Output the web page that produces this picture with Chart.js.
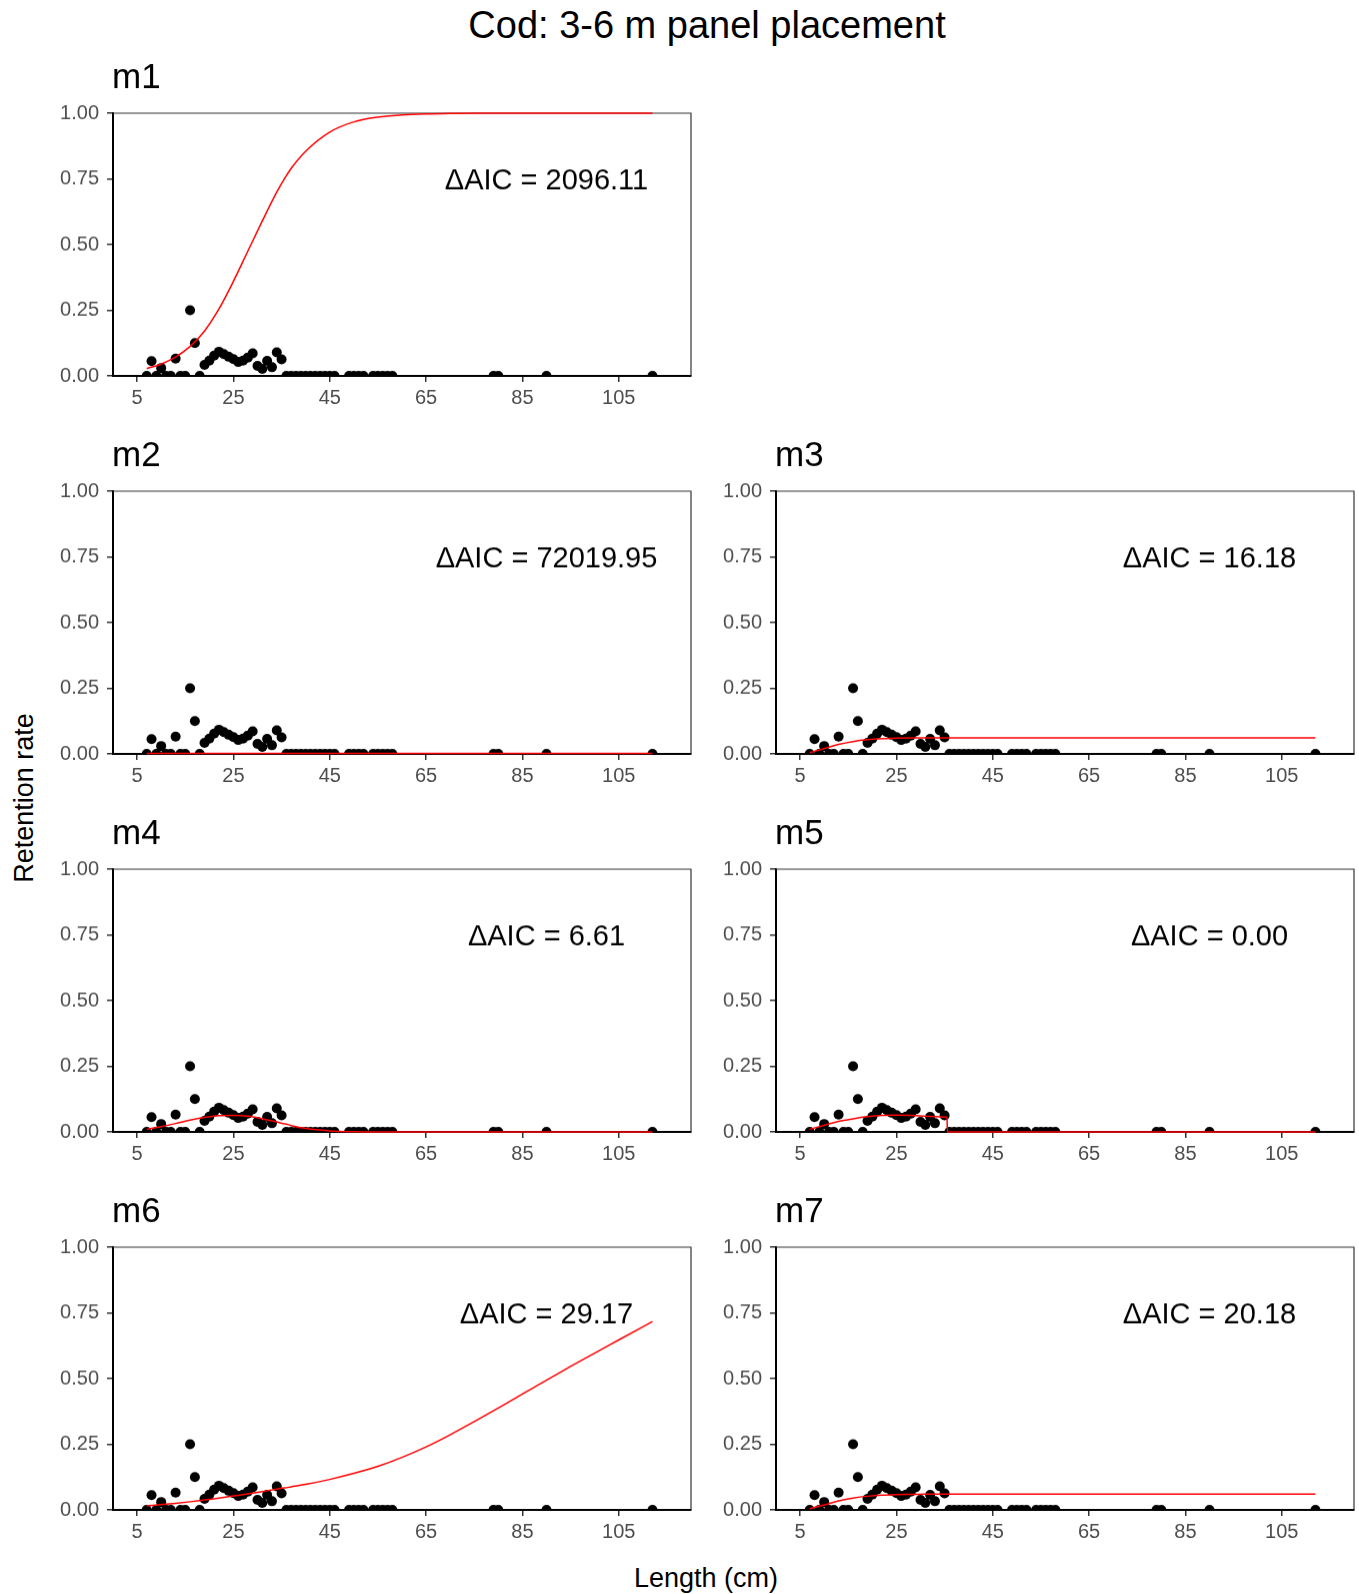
<!DOCTYPE html>
<html>
<head>
<meta charset="utf-8">
<title>Cod: 3-6 m panel placement</title>
<script src="https://cdn.jsdelivr.net/npm/chart.js@4.4.0/dist/chart.umd.min.js"></script>
<style>
body{margin:0;background:#fff;font-family:'Liberation Sans',Arial,sans-serif;}
#page{position:relative;width:1359px;height:1594px;overflow:hidden;}
.panel{position:absolute;}
#mainTitle{position:absolute;left:307px;width:800px;top:6px;text-align:center;font-size:38px;line-height:38px;color:#000;}
#xTitle{position:absolute;left:406px;width:600px;top:1565px;text-align:center;font-size:27px;line-height:27px;color:#000;}
#yTitle{position:absolute;left:24px;top:798px;font-size:27px;line-height:27px;white-space:nowrap;transform:translate(-50%,-50%) rotate(-90deg);color:#000;}
</style>
</head>
<body>
<div id="page">
  <div id="mainTitle">Cod: 3-6 m panel placement</div>
  <div id="yTitle">Retention rate</div>
  <div id="xTitle">Length (cm)</div>
</div>
<script>
'use strict';
// observed retention, one point per 1 cm length class
let lengthCm=[7,8,9,10,11,12,13,14,15,16,17,18,19,20,21,22,23,24,25,26,27,28,29,30,31,32,33,34,35,
  36,37,38,39,40,41,42,43,44,45,46,49,50,51,52,54,55,56,57,58,79,80,90,112];
let retention=[0,0.056,0,0.030,0,0,0.066,0,0,0.25,0.125,0,0.042,0.058,0.077,0.092,0.083,0.073,0.064,0.053,0.058,0.070,0.086,0.038,0.027,0.057,0.033,0.090,0.063,
  0,0,0,0,0,0,0,0,0,0,0,0,0,0,0,0,0,0,0,0,0,0,0,0];

// fitted curves
let fitLength=[7,10,13,16,19,22,25,28,31,34,35.5,35.6,37,40,45,50,55,60,65,70,75,80,85,90,95,100,105,110,112];
let fitM1=[0.028,0.045,0.072,0.112,0.171,0.255,0.36,0.475,0.59,0.70,0.748,0.751,0.79,0.855,0.928,0.967,0.985,0.993,0.997,0.999,1,1,1,1,1,1,1,1,1];
let fitM2=[0.002,0.002,0.002,0.002,0.002,0.002,0.002,0.002,0.002,0.002,0.002,0.002,0.002,0.002,0.002,0.002,0.002,0.002,0.002,0.002,0.002,0.002,0.002,0.002,0.002,0.002,0.002,0.002,0.002];
let fitM3=[0.005,0.02,0.036,0.047,0.054,0.058,0.06,0.061,0.061,0.061,0.061,0.061,0.061,0.061,0.061,0.061,0.061,0.061,0.061,0.061,0.061,0.061,0.061,0.061,0.061,0.061,0.061,0.061,0.061];
let fitM4=[0.01,0.02,0.032,0.045,0.055,0.062,0.063,0.06,0.05,0.038,0.031,0.031,0.024,0.013,0.004,0.001,0,0,0,0,0,0,0,0,0,0,0,0,0];
let fitM5=[0.01,0.025,0.04,0.05,0.058,0.063,0.064,0.063,0.06,0.057,0.055,0,0,0,0,0,0,0,0,0,0,0,0,0,0,0,0,0,0];
let fitM6=[0.015,0.02,0.025,0.031,0.038,0.045,0.053,0.061,0.07,0.079,0.084,0.084,0.088,0.097,0.116,0.139,0.166,0.2,0.24,0.286,0.336,0.388,0.441,0.494,0.546,0.597,0.647,0.697,0.717];
let fitM7=[0.005,0.019,0.034,0.045,0.052,0.056,0.058,0.059,0.06,0.06,0.06,0.06,0.06,0.06,0.06,0.06,0.06,0.06,0.06,0.06,0.06,0.06,0.06,0.06,0.06,0.06,0.06,0.06,0.06];

let panelNames=['m1','m2','m3','m4','m5','m6','m7'];
let deltaAIC=['2096.11','72019.95','16.18','6.61','0.00','29.17','20.18'];
let panelFits=[fitM1,fitM2,fitM3,fitM4,fitM5,fitM6,fitM7];
let xTicks=[5,25,45,65,85,105];
let yTicks=[0,0.25,0.5,0.75,1];

// grid slot of each panel (column,row); top right slot stays empty
let panelSlots=[[0,0],[0,1],[1,1],[0,2],[1,2],[0,3],[1,3]];
let plotLeft=[112.7,775.6];
let plotTop=[113,491,869,1247];
let yAxisW=72, titleH=60, xAxisH=42, plotW=579, plotH=262.5, padRight=4;

let panelDecor={
  id:'panelDecor',
  beforeDatasetsDraw(chart){
    let a=chart.chartArea, ctx=chart.ctx;
    ctx.save();
    ctx.strokeStyle='#333';
    ctx.lineWidth=1.2;
    ctx.beginPath();
    ctx.moveTo(a.left,a.top);
    ctx.lineTo(a.right,a.top);
    ctx.lineTo(a.right,a.bottom);
    ctx.stroke();
    ctx.restore();
  },
  afterDatasetsDraw(chart,args,opts){
    let a=chart.chartArea, ctx=chart.ctx;
    ctx.save();
    ctx.fillStyle='#000';
    ctx.font='35px "Liberation Sans", Arial, sans-serif';
    ctx.textAlign='left';
    ctx.textBaseline='alphabetic';
    ctx.fillText(opts.name,a.left-1,a.top-25.5);
    ctx.font='29px "Liberation Sans", Arial, sans-serif';
    ctx.textAlign='center';
    ctx.textBaseline='middle';
    ctx.fillText('\u0394AIC = '+opts.aic,chart.scales.x.getPixelForValue(opts.labelX),chart.scales.y.getPixelForValue(opts.labelY));
    ctx.restore();
  }
};

let tickFont={family:'"Liberation Sans", Arial, sans-serif',size:20};

function makePanel(i){
  let col=panelSlots[i][0], row=panelSlots[i][1];
  let canvas=document.createElement('canvas');
  canvas.className='panel';
  let w=yAxisW+plotW+padRight, h=titleH+plotH+xAxisH;
  canvas.width=w;
  canvas.height=h;
  canvas.style.width=w+'px';
  canvas.style.height=h+'px';
  canvas.style.left=(plotLeft[col]-yAxisW)+'px';
  canvas.style.top=(plotTop[row]-titleH)+'px';
  document.getElementById('page').appendChild(canvas);

  let fit=panelFits[i];
  new Chart(canvas,{
    type:'scatter',
    data:{
      datasets:[{
        type:'line',
        data:fitLength.map((x,j)=>({x:x,y:fit[j]})),
        borderColor:'#ff0000',
        borderWidth:1.5,
        pointRadius:0,
        cubicInterpolationMode:'monotone',
        fill:false,
        clip:3,
        order:0
      },{
        data:lengthCm.map((x,j)=>({x:x,y:retention[j]})),
        backgroundColor:'#000',
        borderColor:'#000',
        borderWidth:0,
        pointRadius:5,
        clip:0,
        order:1
      }]
    },
    options:{
      responsive:false,
      animation:false,
      devicePixelRatio:1,
      layout:{padding:{top:titleH,right:padRight,left:0,bottom:0}},
      plugins:{
        legend:{display:false},
        tooltip:{enabled:false},
        panelDecor:{name:panelNames[i],aic:deltaAIC[i],labelX:90,labelY:0.742}
      },
      scales:{
        x:{
          type:'linear',min:0,max:120,
          afterBuildTicks:s=>{s.ticks=xTicks.map(v=>({value:v}));},
          afterFit:s=>{s.height=xAxisH;},
          grid:{display:true,drawOnChartArea:false,drawTicks:true,tickLength:6,color:'#333',lineWidth:1.5},
          border:{display:true,color:'#000',width:2},
          ticks:{color:'#4d4d4d',font:tickFont,padding:4,maxRotation:0,autoSkip:false}
        },
        y:{
          type:'linear',min:0,max:1,
          afterBuildTicks:s=>{s.ticks=yTicks.map(v=>({value:v}));},
          afterFit:s=>{s.width=yAxisW;},
          grid:{display:true,drawOnChartArea:false,drawTicks:true,tickLength:6,color:'#333',lineWidth:1.5},
          border:{display:true,color:'#000',width:2},
          ticks:{color:'#4d4d4d',font:tickFont,padding:8,autoSkip:false,callback:v=>Number(v).toFixed(2)}
        }
      }
    },
    plugins:[panelDecor]
  });
}

for(let i=0;i<panelNames.length;i++){
  makePanel(i);
}
</script>
</body>
</html>
